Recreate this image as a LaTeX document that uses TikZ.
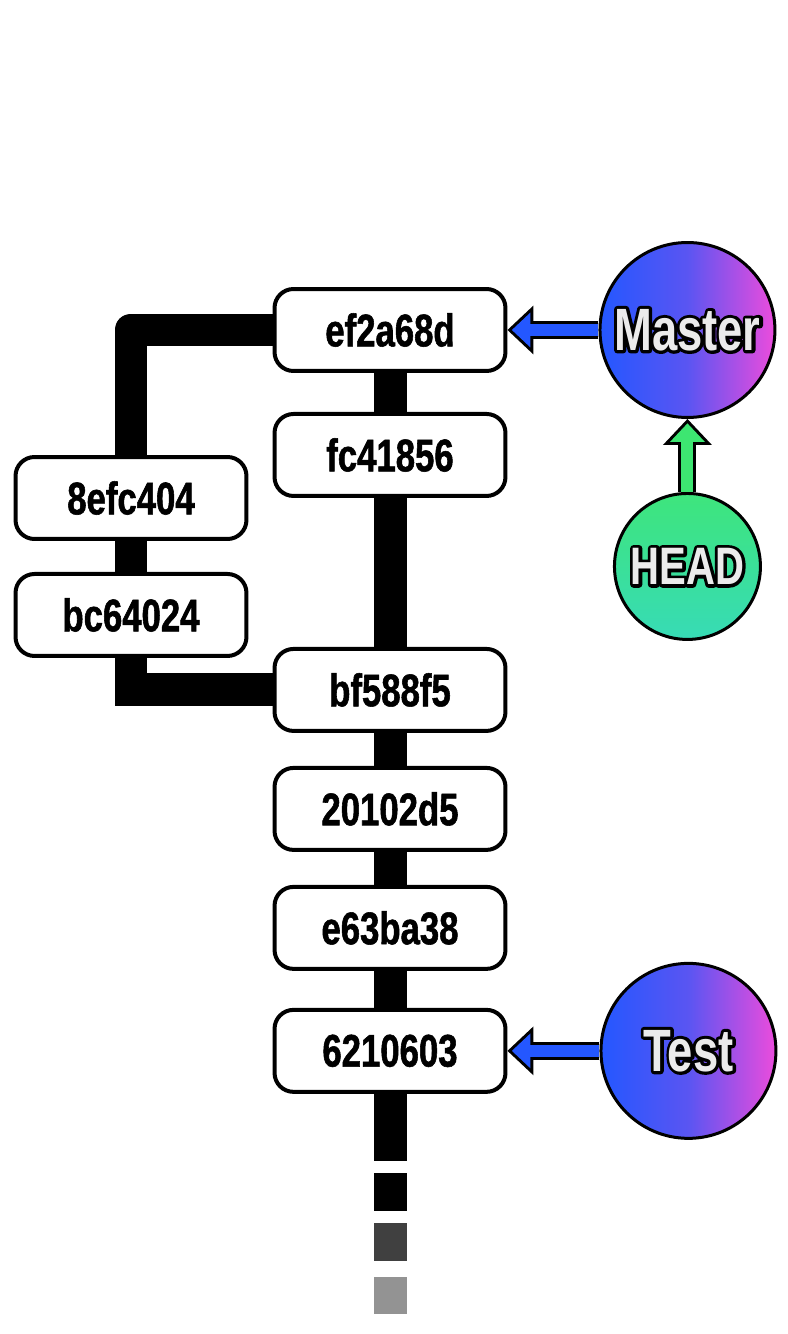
\documentclass[tikz,border=0pt]{standalone}
\usepackage{fontspec}
\usetikzlibrary{positioning,arrows.meta}
\newfontfamily\hashfont[FakeStretch=0.76,FakeBold=1.2]{Liberation Sans}
\newfontfamily\reffont[FakeStretch=0.76]{Liberation Sans}
\definecolor{refblue}{HTML}{2457FF}
\definecolor{refviolet}{HTML}{5A55F2}
\definecolor{refpink}{HTML}{EC4CDC}
\definecolor{headtop}{HTML}{3EE57C}
\definecolor{headbot}{HTML}{37DBB6}
\definecolor{headgreen}{HTML}{3DE671}
\definecolor{labelgray}{HTML}{EBEBEB}
\definecolor{taildark}{HTML}{404040}
\definecolor{taillight}{HTML}{939393}
\tikzset{
commit/.style={rectangle,draw,fill=white,line width=0.08cm,rounded corners=0.38cm,
  minimum width=4.62cm,minimum height=1.64cm,inner sep=0pt,
  font=\hashfont\bfseries\fontsize{26}{30}\selectfont},
rf/.style={circle,draw,line width=0.06cm,minimum size=3.5cm,inner sep=0pt,
  left color=refblue,right color=refpink,middle color=refviolet,text=labelgray,
  font=\reffont\bfseries\fontsize{34}{40}\selectfont},
hd/.style={circle,draw,line width=0.06cm,minimum size=2.92cm,inner sep=0pt,
  top color=headtop,bottom color=headbot,text=labelgray,
  font=\reffont\bfseries\fontsize{30}{36}\selectfont},
bar/.style={line width=0.66cm},
ptr/.style={draw=#1,line width=0.24cm,
  -{Triangle[length=0.372cm,width=0.70cm,line width=0pt]},shorten >=0.088cm,
  preaction={draw=black,line width=0.36cm,
    -{Triangle[length=0.52cm,width=0.98cm,line width=0pt]},shorten >=0pt}},
}
\newcommand\reftext[1]{\makebox[0pt][l]{\special{pdf:literal direct 1 Tr 3.6 w 1 j 0 0 0 RG}#1\special{pdf:literal direct 0 Tr}}#1}

\begin{document}
\begin{tikzpicture}[x=0.02cm,y=-0.02cm]
	\useasboundingbox (0,0) rectangle (787,1334);

	\node[commit] (c0) at (390,330) {ef2a68d};
	\node[commit,below=0.78cm of c0] (c1) {fc41856};
	\node[commit] (c2) at (131,498) {8efc404};
	\node[commit,below=0.62cm of c2] (c3) {bc64024};
	\node[commit,below=2.98cm of c1] (c4) {bf588f5};
	\node[commit,below=0.66cm of c4] (c5) {20102d5};
	\node[commit,below=0.66cm of c5] (c6) {e63ba38};
	\node[commit,below=0.74cm of c6] (c7) {6210603};
	\coordinate (tail) at (390,1161);

	\node[rf,right=1.82cm of c0] (m) {\reftext{Master}};
	\node[hd,below=1.46cm of m] (h) {\reftext{HEAD}};
	\node[rf,right=1.84cm of c7] (t) {\reftext{Test}};

	\foreach \a/\b in {c0/c1,c1/c4,c4/c5,c5/c6,c6/c7,c7/tail}
		\draw[bar] (\a) -- (\b);
	\draw[bar,line join=round] (c0.west) -| (c2.north);
	\draw[bar] (c2) -- (c3);
	\draw[bar] (c3.south) |- (c4.west);

	\foreach \ya/\yb/\col in {1173/1211/black,1223/1261/taildark,1277/1314/taillight}
		\draw[bar,\col] (390,\ya) -- (390,\yb);

	\draw[ptr=refblue] (m) -- (m -| c0.east);
	\draw[ptr=headgreen] (h) -- (m);
	\draw[ptr=refblue] (t) -- (t -| c7.east);
\end{tikzpicture}
\end{document}
